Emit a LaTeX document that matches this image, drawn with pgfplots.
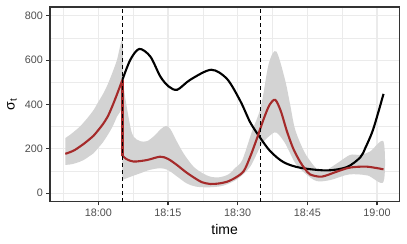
\documentclass[border=0pt]{standalone}
\usepackage{fontspec}
\setmainfont{Liberation Sans}
\usepackage{pgfplots}
\pgfplotsset{compat=1.18}
\definecolor{gridc}{HTML}{EBEBEB}
\definecolor{redl}{HTML}{A52A2A}
\definecolor{bandc}{HTML}{D3D3D3}
\definecolor{tickc}{HTML}{4D4D4D}
\definecolor{framec}{HTML}{333333}
\begin{document}
\begin{tikzpicture}
\path[use as bounding box] (-50bp,-42.3bp) rectangle (357bp,201.7bp);
\begin{axis}[at={(0,0)},anchor=south west, scale only axis,
  width=349.3bp, height=194.7bp,
  xmin=-10.4, xmax=64.8, ymin=-38, ymax=840,
  xtick={0,15,30,45,60}, xticklabels={18:00,18:15,18:30,18:45,19:00},
  minor xtick={-7.5,7.5,22.5,37.5,52.5},
  ytick={0,200,400,600,800}, yticklabels={0,200,400,600,800},
  minor ytick={100,300,500,700},
  grid=both,
  major grid style={gridc, line width=1.07bp},
  minor grid style={gridc, line width=0.53bp},
  axis line style={framec, line width=1.07bp},
  tick style={framec, line width=1.07bp},
  major tick length=3.7bp, minor tick length=0pt,
  tick align=outside, tick pos=left,
  ticklabel style={font=\fontsize{10.8bp}{12bp}\selectfont, text=tickc},
  xlabel={time},
  xlabel style={font=\fontsize{14bp}{16bp}\selectfont, at={(axis description cs:0.5,-0.145)}, anchor=center},
  ylabel={σ\textsubscript{t}},
  ylabel style={font=\fontsize{14bp}{16bp}\selectfont, at={(axis description cs:-0.109,0.5)}, anchor=center},
  clip=true,
]
% band segment 1
\addplot[fill=bandc, draw=none, smooth, tension=0.5] coordinates {(-7.1,249)(-6,265)(-5,282)(-4,300)(-3,323)(-2,348)(-1,376)(0,412)(1,447)(2,490)(3,542)(4,600)(5.2,685)
 (5.2,410)(4,345)(3,298)(2,262)(1,230)(0,205)(-1,181)(-2,166)(-3,152)(-4,142)(-5,135)(-6,130)(-7.1,128)};
% band segment 2
\addplot[fill=bandc, draw=none, smooth, tension=0.5] coordinates {(5.2,520)(5.8,430)(6.9,300)(7.6,255)(9,235)(10.5,235)(12,258)(13.5,290)(14.6,304)(15.5,290)(17,230)(18.5,175)(20.5,120)(22.5,90)(24.1,75)(26,72)(28,85)(29.5,115)(31,150)(33.1,280)(35,390)(36.7,585)(38.3,640)(40.2,512)(41.3,400)(42.4,286)(44.5,181)(47,110)(48.5,98)(51.4,135)(54.2,173)(56.4,173)(58.5,188)(61.4,233)
 (61.4,52)(58,80)(54,85)(50,60)(47,55)(44.5,90)(42.4,136)(40.2,226)(38.3,274)(36.7,256)(35,215)(32.7,120)(30,65)(27,35)(24,27)(21,30)(19,45)(17,75)(15,105)(13.3,113)(11,105)(9,90)(7,75)(5.2,60)};
% black line
\addplot[black, line width=2.1bp, smooth] coordinates {(5.2,512)(6.89,602)(8.82,651)(11.19,617)(13.34,527)(15.13,482)(17.0,467)(19.8,512)(24.3,557)(27.7,516)(30.6,415)(32.7,320)(34.7,255)(37.0,190)(39.9,140)(43.5,115)(49.2,103)(53.5,118)(56.4,162)(57.5,205)(59.2,290)(61.4,448)};
% red line
\addplot[redl, line width=2.1bp, smooth] coordinates {(-7.1,178)(-6,186)(-5,196)(-4,210)(-3,225)(-2,242)(-1,260)(0,285)(1,312)(2,345)(3,392)(4,445)(5.2,512)};
\addplot[redl, line width=2.1bp] coordinates {(5.2,512)(5.2,170)};
\addplot[redl, line width=2.1bp, smooth] coordinates {(5.2,170)(6,155)(7.6,143)(10.5,150)(13.3,165)(15,155)(16.9,128)(18.7,98)(20.5,72)(22.3,50)(24.1,42)(25.9,44)(27.7,52)(29.5,70)(31.3,100)(32.7,165)(34.2,250)(35.6,335)(36.9,400)(38.1,421)(39.3,370)(40.6,280)(42,200)(43.5,140)(44.5,110)(45.6,85)(48.1,75)(51.4,98)(54.2,116)(57.8,120)(61.4,108)};
% change points
\addplot[black, line width=1.1bp, dash pattern=on 4bp off 3bp] coordinates {(5.2,-38)(5.2,840)};
\addplot[black, line width=1.1bp, dash pattern=on 4bp off 3bp] coordinates {(35,-38)(35,840)};
\end{axis}
\end{tikzpicture}
\end{document}
